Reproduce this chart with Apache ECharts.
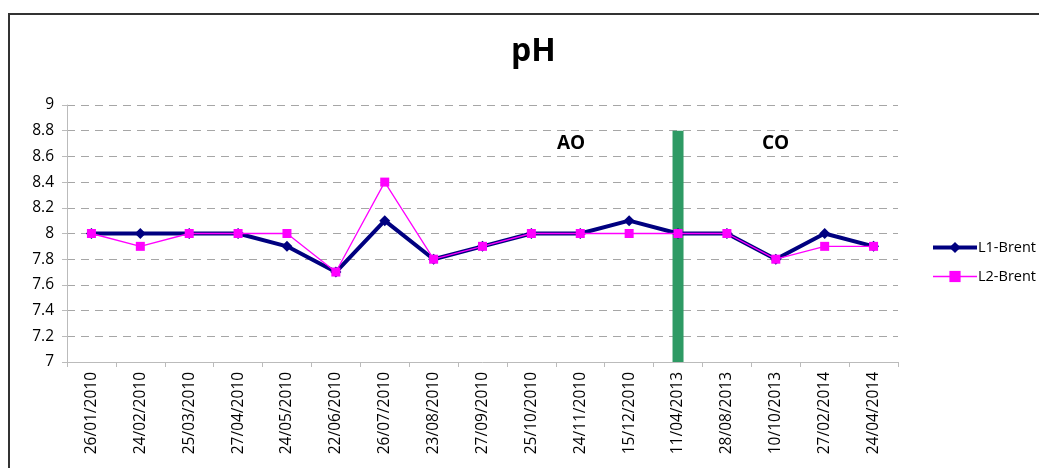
<!DOCTYPE html>
<html>
<head>
<meta charset="utf-8">
<script src="https://cdn.jsdelivr.net/npm/echarts@6/dist/echarts.min.js"></script>
<style>
  html, body { margin: 0; padding: 0; background: #fff; }
  #chart { width: 1039px; height: 468px; }
</style>
</head>
<body>
<div id="chart"></div>
<script>
// dates of the samples
var categories = [
  "26/01/2010", "24/02/2010", "25/03/2010", "27/04/2010", "24/05/2010",
  "22/06/2010", "26/07/2010", "23/08/2010", "27/09/2010", "25/10/2010",
  "24/11/2010", "15/12/2010", "11/04/2013", "28/08/2013", "10/10/2013",
  "27/02/2014", "24/04/2014"
];
var l1Brent = [8, 8, 8, 8, 7.9, 7.7, 8.1, 7.8, 7.9, 8, 8, 8.1, 8, 8, 7.8, 8, 7.9];
var l2Brent = [8, 7.9, 8, 8, 8, 7.7, 8.4, 7.8, 7.9, 8, 8, 8, 8, 8, 7.8, 7.9, 7.9];
// green separator between AO and CO periods
var separator = [null, null, null, null, null, null, null, null, null, null, null, null, 8.8, null, null, null, null];
var yTicks = { min: 7, max: 9, interval: 0.2 };

var font = "'Open Sans', 'Noto Sans', sans-serif";

var chart = echarts.init(document.getElementById("chart"));
chart.setOption({
  animation: false,
  textStyle: { fontFamily: font },
  title: {
    text: "pH",
    left: 506,
    top: 31,
    textStyle: { fontSize: 32, fontWeight: "bold", color: "#000", fontFamily: font }
  },
  legend: {
    orient: "vertical",
    left: 926,
    top: 235,
    itemGap: 14,
    itemWidth: 44,
    itemHeight: 14,
    data: [
      { name: "L1-Brent", lineStyle: { width: 4 } },
      { name: "L2-Brent", lineStyle: { width: 1.3 } }
    ],
    textStyle: { fontSize: 14.5, color: "#000", fontFamily: font, padding: [0, 0, 0, -4] }
  },
  grid: { left: 67, right: 141, top: 105, bottom: 106 },
  xAxis: {
    type: "category",
    data: categories,
    axisLine: { lineStyle: { color: "#bbb" } },
    axisTick: { show: true, lineStyle: { color: "#bbb" } },
    axisLabel: { rotate: 90, fontSize: 15.5, color: "#000", margin: 10 }
  },
  yAxis: {
    type: "value",
    min: yTicks.min,
    max: yTicks.max,
    interval: yTicks.interval,
    axisLine: { show: true, lineStyle: { color: "#bbb" } },
    axisTick: { show: true, lineStyle: { color: "#bbb" } },
    axisLabel: {
      fontSize: 15.5,
      color: "#000",
      margin: 13,
      formatter: function (v) { return String(Math.round(v * 10) / 10); }
    },
    splitLine: { lineStyle: { color: "#a6a6a6", type: [8, 6] } }
  },
  graphic: [
    {
      type: "polyline",
      shape: { points: [[9, 470], [9, 14], [1040, 14]] },
      style: { stroke: "#333", lineWidth: 2, fill: null }
    },
    {
      type: "text", left: 557, top: 134,
      style: { text: "AO", font: "bold 19px " + font, fill: "#000" }
    },
    {
      type: "text", left: 762, top: 134,
      style: { text: "CO", font: "bold 19px " + font, fill: "#000" }
    }
  ],
  series: [
    {
      name: "sep",
      type: "bar",
      data: separator,
      barWidth: 11,
      itemStyle: { color: "#2e9a64" },
      z: 1
    },
    {
      name: "L1-Brent",
      type: "line",
      data: l1Brent,
      symbol: "diamond",
      symbolSize: 11,
      color: "#000080",
      lineStyle: { width: 4, color: "#000080" },
      itemStyle: { color: "#000080" },
      z: 3
    },
    {
      name: "L2-Brent",
      type: "line",
      data: l2Brent,
      symbol: "rect",
      symbolSize: 9,
      color: "#ff00ff",
      lineStyle: { width: 1.3, color: "#ff00ff" },
      itemStyle: { color: "#ff00ff" },
      z: 4
    }
  ]
});
</script>
</body>
</html>
